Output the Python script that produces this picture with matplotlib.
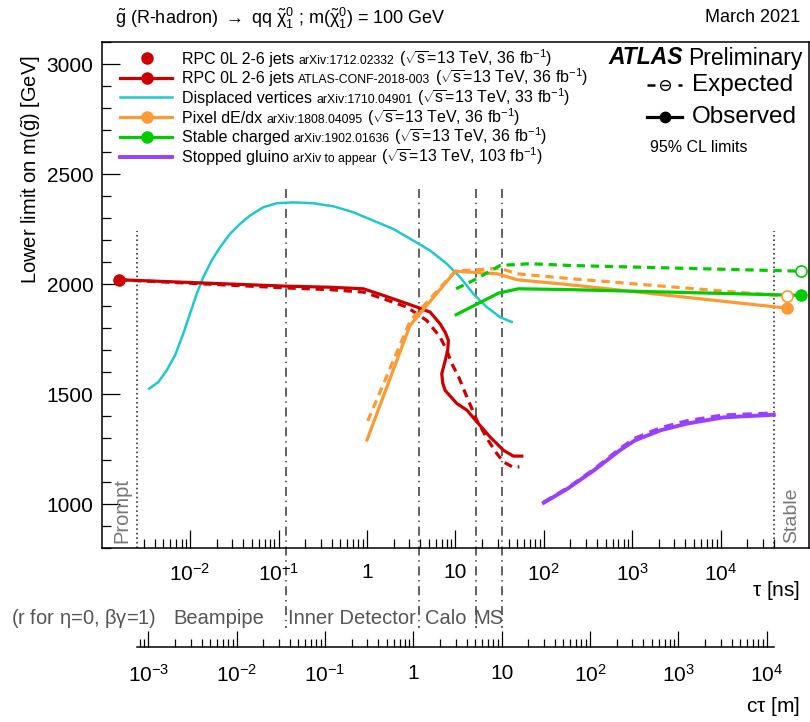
import numpy as np
import matplotlib
matplotlib.use("Agg")
import matplotlib.pyplot as plt
import matplotlib.transforms as mtransforms
from matplotlib.lines import Line2D
from matplotlib.ticker import FixedLocator, FixedFormatter, NullFormatter

plt.rcParams["font.family"] = ["Liberation Sans", "DejaVu Sans"]
plt.rcParams["mathtext.fontset"] = "custom"
plt.rcParams["mathtext.rm"] = "Liberation Sans"
plt.rcParams["mathtext.it"] = "Liberation Sans:italic"
plt.rcParams["mathtext.bf"] = "Liberation Sans:bold"
plt.rcParams["mathtext.default"] = "regular"

C_LIGHT = 0.299792458  # m / ns

# ---- data (tau in ns, limits in GeV) ----
tau_prompt = 2.5e-3
tau_stable = 4.0e4
det_ctau = [0.0361, 1.163, 5.10, 10.1]  # beampipe, ID, calo, MS radii [m]

rpc_prompt_tau = [1.57e-3]
rpc_prompt_lim = [2020]

rpc_obs_tau = [1.57e-3, 0.12, 0.383, 0.911, 1.53, 3.66, 5.18, 6.71, 7.7, 8.34, 8.2,
               7.6, 7.02, 7.2, 7.65, 10.4, 13.5, 17.5, 24.7, 34.9, 45.3, 56.4]
rpc_obs_lim = [2020, 1991, 1986, 1979, 1949, 1896, 1873, 1820, 1780, 1744, 1700,
               1645, 1593, 1550, 1517, 1457, 1427, 1374, 1305, 1245, 1218, 1218]
rpc_exp_tau = [1.57e-3, 0.12, 0.383, 0.911, 1.53, 2.82, 4.74, 6.71, 8.0, 9.1,
               10.9, 13.5, 17.5, 23.5, 29.4, 34.9, 44.2, 53.0]
rpc_exp_lim = [2020, 1983, 1975, 1964, 1934, 1896, 1835, 1760, 1699, 1639,
               1578, 1487, 1381, 1290, 1230, 1192, 1169, 1169]

dv_tau = [3.455e-3, 4.37e-3, 5.44e-3, 6.75e-3, 8.38e-3, 9.97e-3, 1.188e-2, 1.41e-2,
          1.755e-2, 2.18e-2, 2.83e-2, 3.67e-2, 4.76e-2, 6.73e-2, 9.54e-2, 0.147,
          0.2475, 0.417, 0.702, 1.18, 1.99, 3.35, 5.17, 7.99, 11.3, 15.98, 22.6,
          32.0, 43.4]
dv_lim = [1525, 1555, 1608, 1676, 1775, 1866, 1956, 2032,
          2108, 2168, 2229, 2274, 2312, 2350, 2368, 2372,
          2368, 2354, 2327, 2289, 2251, 2198, 2153, 2093, 2032, 1956, 1896,
          1850, 1828]

pix_obs_tau = [1.0, 3.07, 10.0, 30.0, 50.0, 200.0, 5.6e4]
pix_obs_lim = [1291, 1812, 2059, 2047, 2020, 1997, 1891]
pix_exp_tau = [1.02, 3.1, 10.0, 17.0, 32.0, 50.0, 200.0, 5.6e4]
pix_exp_lim = [1378, 1835, 2060, 2065, 2072, 2047, 2025, 1945]

sc_obs_tau = [10.2, 30.7, 51.6, 198.0, 8.1e4]
sc_obs_lim = [1861, 1959, 1979, 1975, 1949]
sc_exp_tau = [10.2, 17.5, 32.0, 70.0, 198.0, 8.1e4]
sc_exp_lim = [1979, 2025, 2085, 2093, 2085, 2059]

sg_tau = [100, 188, 371, 730, 1080, 2120, 4180, 1.07e4, 4.0e4]
sg_obs_lim = [1006, 1071, 1154, 1245, 1290, 1336, 1366, 1394, 1406]
sg_exp_lim = [1008, 1074, 1158, 1252, 1299, 1347, 1378, 1404, 1413]

leg_names = ["RPC 0L 2-6 jets", "RPC 0L 2-6 jets", "Displaced vertices",
             "Pixel dE/dx", "Stable charged", "Stopped gluino"]
leg_refs = ["arXiv:1712.02332", "ATLAS-CONF-2018-003", "arXiv:1710.04901",
            "arXiv:1808.04095", "arXiv:1902.01636", "arXiv to appear"]
leg_lumi = ["36", "36", "33", "36", "36", "103"]

tau_labels = [r"$10^{-2}$", r"$10^{-1}$", "1", "10", r"$10^{2}$", r"$10^{3}$", r"$10^{4}$"]
ctau_labels = [r"$10^{-3}$", r"$10^{-2}$", r"$10^{-1}$", "1", "10",
               r"$10^{2}$", r"$10^{3}$", r"$10^{4}$"]

RED = "#cc0000"
CYAN = "#1fc8d0"
ORANGE = "#ff9933"
GREEN = "#00cc00"
PURPLE = "#9940ff"
GREY = "#555555"
LGREY = "#777777"

W, H = 810, 722
fig = plt.figure(figsize=(W / 100, H / 100), dpi=100)
renderer = fig.canvas.get_renderer()


def fx(px):
    return px / W


def fy(py):
    return 1 - py / H


ax = fig.add_axes([fx(101.7), fy(548), 707.3 / W, 505.7 / H])
ax.set_xscale("log")

dash = (0, (2.6, 1.8))
lw = 2.3

# detector boundaries
trans = mtransforms.blended_transform_factory(ax.transData, fig.transFigure)
for r in det_ctau:
    t = r / C_LIGHT
    ax.plot([t, t], [fy(189), fy(628)], transform=trans, clip_on=False,
            color=GREY, lw=1.3, ls=(0, (5, 2.6, 0.8, 2.6)), zorder=1)
for t in (tau_prompt, tau_stable):
    ax.plot([t, t], [800, 2240], color="#444444", lw=1.3, ls=(0, (0.9, 1.6)), zorder=1)

# curves
ax.plot(dv_tau, dv_lim, color=CYAN, lw=1.8, zorder=3)
ax.plot(rpc_exp_tau, rpc_exp_lim, color=RED, lw=lw, ls=dash, zorder=3)
ax.plot(rpc_obs_tau, rpc_obs_lim, color=RED, lw=lw, zorder=3)
ax.plot(rpc_prompt_tau, rpc_prompt_lim, "o", color=RED, ms=8, clip_on=False, zorder=4)
ax.plot(pix_exp_tau, pix_exp_lim, color=ORANGE, lw=lw, ls=dash, zorder=3)
ax.plot(pix_obs_tau, pix_obs_lim, color=ORANGE, lw=lw, zorder=3)
ax.plot(sc_exp_tau, sc_exp_lim, color=GREEN, lw=lw, ls=dash, zorder=3)
ax.plot(sc_obs_tau, sc_obs_lim, color=GREEN, lw=lw, zorder=3)
ax.plot(sg_tau, sg_exp_lim, color=PURPLE, lw=2.6, ls=dash, zorder=3)
ax.plot(sg_tau, sg_obs_lim, color=PURPLE, lw=2.8, zorder=3)
for tt, ll, col in ((pix_obs_tau, pix_obs_lim, ORANGE), (sc_obs_tau, sc_obs_lim, GREEN)):
    ax.plot(tt[-1:], ll[-1:], "o", color=col, ms=8, zorder=5)
for tt, ll, col in ((pix_exp_tau, pix_exp_lim, ORANGE), (sc_exp_tau, sc_exp_lim, GREEN)):
    ax.plot(tt[-1:], ll[-1:], "o", mfc="white", mec=col, mew=1.2, ms=8, zorder=4)

ax.set_xlim(1e-3, 1e5)
ax.set_ylim(800, 3100)


# axis ticks, only between prompt and stable on the x axis
def log_ticks(lo, hi):
    major, minor = [], []
    for e in range(-4, 6):
        for k in range(1, 10):
            v = k * 10.0 ** e
            if lo * 0.999 <= v <= hi * 1.001:
                (major if k == 1 else minor).append(v)
    return major, minor


maj, mnr = log_ticks(tau_prompt, tau_stable)
ax.xaxis.set_major_locator(FixedLocator(maj))
ax.xaxis.set_major_formatter(FixedFormatter(tau_labels))
ax.xaxis.set_minor_locator(FixedLocator(mnr))
ax.xaxis.set_minor_formatter(NullFormatter())
ax.yaxis.set_major_locator(FixedLocator(np.arange(1000, 3001, 500)))
ax.yaxis.set_minor_locator(FixedLocator(np.arange(800, 3101, 100)))
ax.tick_params(which="both", direction="in", top=False, right=False, width=0.9)
ax.tick_params(which="major", length=13, labelsize=15)
ax.tick_params(which="minor", length=6.5)
ax.tick_params(axis="x", which="major", pad=11)
ax.tick_params(axis="y", which="major", pad=6)
for s in ax.spines.values():
    s.set_linewidth(1.1)

ax.set_ylabel(r"Lower limit on m($\tilde{g}$) [GeV]", fontsize=14.5, loc="top")
ax.yaxis.set_label_coords((43 - 101.7) / 707.3, (548 - 55) / 505.7)

# second axis in c*tau
ax2 = fig.add_axes([fx(137.3), fy(647.3), (773.7 - 137.3) / W, 0.0001])
ax2.set_xscale("log")
ax2.set_xlim(tau_prompt * C_LIGHT, tau_stable * C_LIGHT)
ax2.set_yticks([])
for side in ("top", "left", "right"):
    ax2.spines[side].set_visible(False)
ax2.patch.set_visible(False)
maj2, mnr2 = log_ticks(tau_prompt * C_LIGHT, tau_stable * C_LIGHT)
ax2.xaxis.set_major_locator(FixedLocator(maj2))
ax2.xaxis.set_major_formatter(FixedFormatter(ctau_labels))
ax2.xaxis.set_minor_locator(FixedLocator(mnr2))
ax2.xaxis.set_minor_formatter(NullFormatter())
ax2.tick_params(which="both", direction="in", width=0.9)
ax2.tick_params(which="major", length=11.3, labelsize=15, pad=12)
ax2.tick_params(which="minor", length=5.8)
ax2.spines["bottom"].set_linewidth(1.1)

fig.text(fx(800), fy(590), r"$\tau$ [ns]", fontsize=15, ha="right", va="center")
fig.text(fx(800), fy(706), r"c$\tau$ [m]", fontsize=15, ha="right", va="center")

# detector row
for x, s in ((11, r"(r for $\eta$=0, $\beta\gamma$=1)"), (173, "Beampipe"),
             (288, "Inner Detector"), (425, "Calo"), (473, "MS")):
    fig.text(fx(x), fy(619), s, fontsize=14.5, color=GREY, ha="left", va="center")

fig.text(fx(121.7), fy(543), "Prompt", fontsize=14.5, color=LGREY, rotation=90,
         ha="center", va="bottom")
fig.text(fx(791.7), fy(543), "Stable", fontsize=14, color=LGREY, rotation=90,
         ha="center", va="bottom")

# title line
fig.text(fx(115), fy(18), r"$\tilde{g}$ (R-hadron) $\rightarrow$ qq $\tilde{\chi}^{0}_{1}$ ; "
         r"m($\tilde{\chi}^{0}_{1}$) = 100 GeV", fontsize=13, ha="left", va="center")
fig.text(fx(800), fy(18), "March 2021", fontsize=13, ha="right", va="center")

# legend
leg_style = [
    dict(color=RED, lw=0, marker="o", ms=8),
    dict(color=RED, lw=lw, marker="o", ms=8),
    dict(color=CYAN, lw=1.8),
    dict(color=ORANGE, lw=lw, marker="o", ms=8),
    dict(color=GREEN, lw=lw, marker="o", ms=8),
    dict(color=PURPLE, lw=2.8),
]
row_y = [58.3, 77.7, 97.3, 117.3, 136.7, 156.7]
for i, y in enumerate(row_y):
    st = dict(leg_style[i])
    if st.get("lw", 0) > 0:
        fig.add_artist(Line2D([fx(120), fx(172)], [fy(y), fy(y)], color=st["color"], lw=st["lw"]))
    if "marker" in st:
        fig.add_artist(Line2D([fx(146.5)], [fy(y)], color=st["color"], lw=0,
                              marker="o", ms=st["ms"]))
    pieces = [(leg_names[i], 11.5), (leg_refs[i], 8.8),
              (r"($\sqrt{s}$=13 TeV, " + leg_lumi[i] + r" fb$^{-1}$)", 11.5)]
    x = 181.7
    for s, size in pieces:
        t = fig.text(fx(x), fy(y + 5.5), s, fontsize=size, ha="left", va="baseline")
        x += t.get_window_extent(renderer).width + 4.5

# ATLAS label block
t = fig.text(fx(802), fy(58), "Preliminary", fontsize=16.5, ha="right", va="center")
wp = t.get_window_extent(renderer).width
fig.text(fx(802 - wp - 5), fy(58), "ATLAS", fontsize=16.5, ha="right", va="center",
         weight="bold", style="italic")

fig.add_artist(Line2D([fx(647), fx(682)], [fy(85), fy(85)], color="black", lw=1.8,
                      ls=(0, (3.2, 3.0))))
fig.add_artist(Line2D([fx(665)], [fy(85)], color="black", lw=0, marker="o",
                      mfc="white", mec="black", mew=1.0, ms=7))
fig.add_artist(Line2D([fx(662), fx(668)], [fy(85), fy(85)], color="black", lw=1.0))
fig.text(fx(692), fy(85), "Expected", fontsize=17.5, ha="left", va="center")

fig.add_artist(Line2D([fx(647), fx(682)], [fy(117), fy(117)], color="black", lw=2.3))
fig.add_artist(Line2D([fx(665)], [fy(117)], color="black", lw=0, marker="o", ms=7.5))
fig.text(fx(692), fy(117), "Observed", fontsize=17.5, ha="left", va="center")
fig.text(fx(650), fy(148), "95% CL limits", fontsize=11.5, ha="left", va="center")

fig.savefig("out.png", dpi=100)
